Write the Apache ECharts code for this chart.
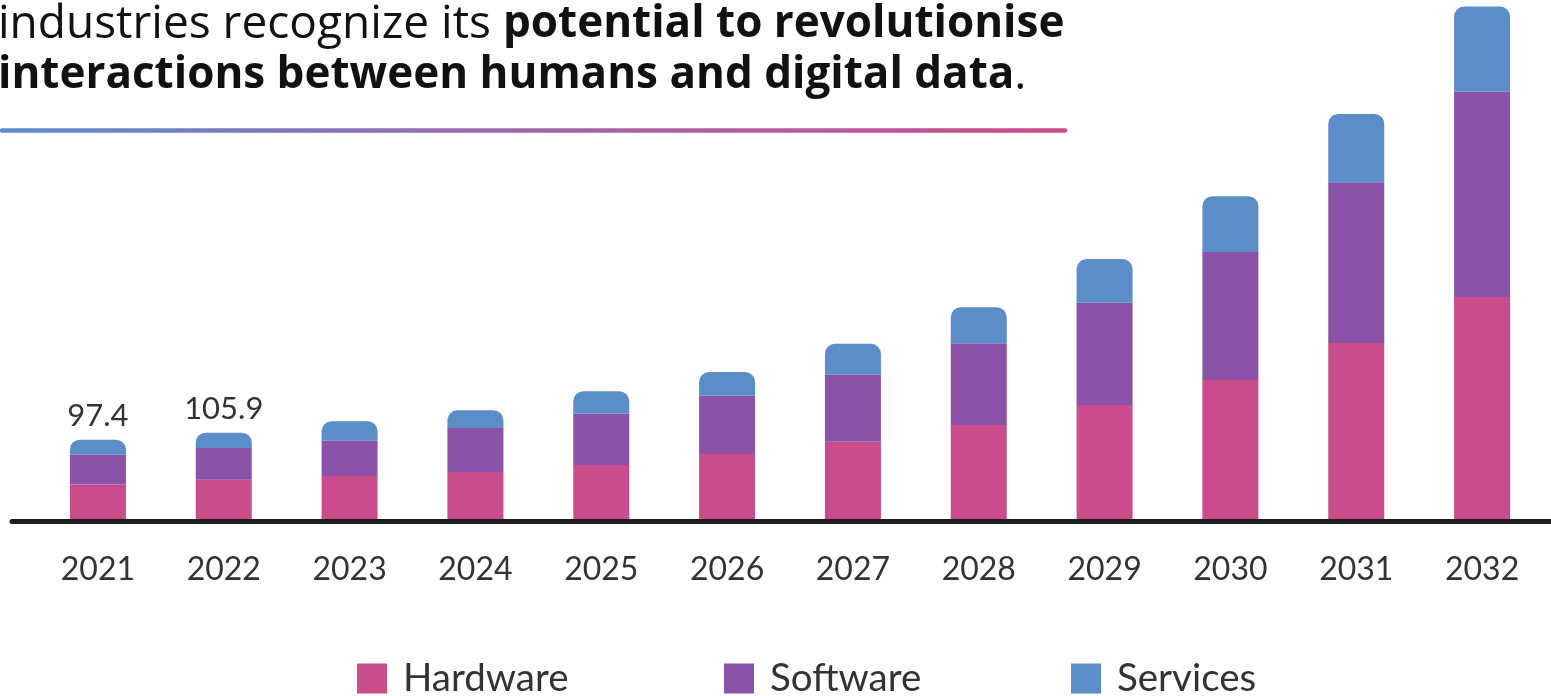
<!DOCTYPE html>
<html>
<head>
<meta charset="utf-8">
<script src="https://cdn.jsdelivr.net/npm/echarts@6/dist/echarts.min.js"></script>
<style>
html,body{margin:0;padding:0;background:#fff;}
#chart{width:1551px;height:696px;}
</style>
</head>
<body>
<div id="chart"></div>
<script>
const categories = ['2021','2022','2023','2024','2025','2026','2027','2028','2029','2030','2031','2032'];
const hardware = [42.6, 48.4, 53.1, 58.0, 66.5, 79.9, 94.9, 115.3, 139.7, 170.2, 215.3, 271.5];
const software = [36.3, 38.8, 43.1, 53.7, 62.6, 71.1, 81.7, 99.7, 124.8, 156.2, 196.1, 250.1];
const services = [18.5, 18.7, 23.7, 21.6, 27.3, 28.9, 37.8, 43.9, 53.3, 68.0, 83.3, 104.1];
const labelledYears = ['2021', '2022'];
const seriesNames = ['Hardware', 'Software', 'Services'];

const colors = ['#CB4C8B', '#8B52A8', '#5B8DC8'];
const FONT = 'Lato';
const TITLE_FONT = 'Open Sans';

const chart = echarts.init(document.getElementById('chart'), null, {renderer: 'canvas'});

function total(i) {
  return (hardware[i] + software[i] + services[i]).toFixed(1);
}

const legendLefts = [357, 724, 1071];

const option = {
  animation: false,
  backgroundColor: '#ffffff',
  title: {
    left: -2,
    top: -1,
    padding: 0,
    text: '{n|industries recognize its }{b|potential to revolutionise}\n{b|interactions between humans and digital data}{n|.}',
    textStyle: {
      rich: {
        n: {fontFamily: TITLE_FONT, fontSize: 46, fontWeight: 'normal', color: '#111', lineHeight: 51},
        b: {fontFamily: TITLE_FONT, fontSize: 44, fontWeight: 'bold', color: '#111', lineHeight: 51}
      }
    }
  },
  legend: seriesNames.map((n, i) => ({
    data: [n],
    left: legendLefts[i],
    top: 659,
    padding: 0,
    itemWidth: 30,
    itemHeight: 30,
    icon: 'rect',
    selectedMode: false,
    textStyle: {fontFamily: FONT, fontSize: 38.5, color: '#333', padding: [4, 0, 0, 11]}
  })),
  grid: {left: 35, right: 6, top: 3, bottom: 176.5, containLabel: false},
  xAxis: {
    type: 'category',
    data: categories,
    axisLine: {show: false},
    axisTick: {show: false},
    axisLabel: {fontFamily: FONT, fontSize: 32, color: '#333', margin: 34}
  },
  yAxis: {
    type: 'value',
    min: 0,
    max: 630,
    show: false,
    splitLine: {show: false}
  },
  series: [
    {name: 'Hardware', type: 'bar', stack: 'total', data: hardware, barWidth: 56, itemStyle: {color: colors[0]}},
    {name: 'Software', type: 'bar', stack: 'total', data: software, barWidth: 56, itemStyle: {color: colors[1]}},
    {name: 'Services', type: 'bar', stack: 'total', data: services, barWidth: 56,
      itemStyle: {color: colors[2], borderRadius: [10, 10, 0, 0]},
      label: {
        show: true,
        position: 'top',
        distance: 8,
        fontFamily: FONT,
        fontSize: 31,
        color: '#333',
        formatter: function (p) {
          return labelledYears.indexOf(categories[p.dataIndex]) >= 0 ? total(p.dataIndex) : '';
        }
      }
    }
  ],
  graphic: [
    {
      type: 'line',
      shape: {x1: 2, y1: 130.5, x2: 1065, y2: 130.5},
      style: {
        lineWidth: 4.5,
        lineCap: 'round',
        stroke: new echarts.graphic.LinearGradient(0, 0, 1, 0, [
          {offset: 0, color: '#5B8DC8'},
          {offset: 0.45, color: '#9B6AAE'},
          {offset: 1, color: '#CB4C8B'}
        ])
      }
    },
    {
      type: 'line',
      z: 100,
      shape: {x1: 12, y1: 521.5, x2: 1551, y2: 521.5},
      style: {lineWidth: 5, lineCap: 'round', stroke: '#1E1E1E'}
    }
  ]
};

chart.setOption(option);
</script>
</body>
</html>
